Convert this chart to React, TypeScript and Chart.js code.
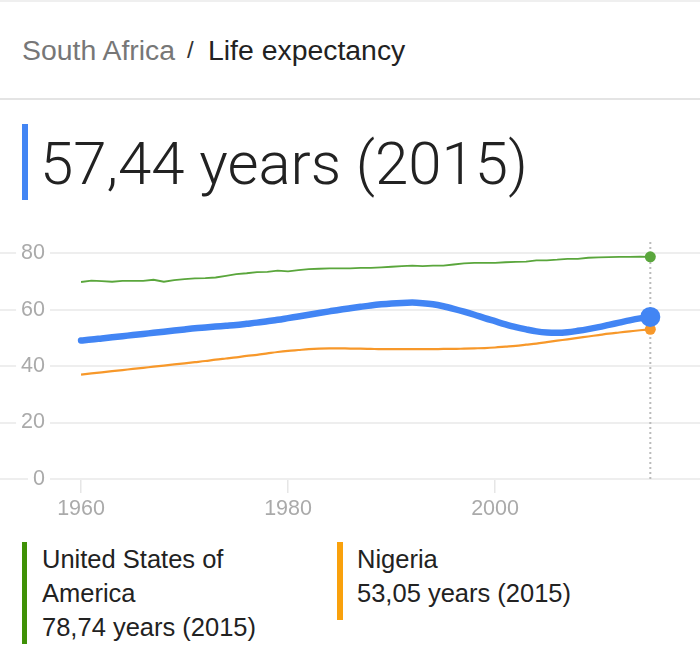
import { useEffect, useRef } from "react";
import { Chart, registerables } from "chart.js";

Chart.register(...registerables);

const years = [
  1960, 1961, 1962, 1963, 1964, 1965, 1966, 1967, 1968, 1969,
  1970, 1971, 1972, 1973, 1974, 1975, 1976, 1977, 1978, 1979,
  1980, 1981, 1982, 1983, 1984, 1985, 1986, 1987, 1988, 1989,
  1990, 1991, 1992, 1993, 1994, 1995, 1996, 1997, 1998, 1999,
  2000, 2001, 2002, 2003, 2004, 2005, 2006, 2007, 2008, 2009,
  2010, 2011, 2012, 2013, 2014, 2015,
];

const southAfrica = [
  49.1, 49.4, 49.8, 50.2, 50.6, 51.0, 51.4, 51.8, 52.2, 52.6,
  53.0, 53.4, 53.7, 54.0, 54.3, 54.6, 55.0, 55.4, 55.9, 56.4,
  57.0, 57.6, 58.2, 58.8, 59.4, 60.0, 60.5, 61.0, 61.5, 61.9,
  62.2, 62.4, 62.5, 62.3, 61.9, 61.2, 60.3, 59.3, 58.2, 57.0,
  55.9, 54.8, 53.8, 53.0, 52.3, 51.9, 51.8, 52.0, 52.5, 53.1,
  53.8, 54.6, 55.4, 56.2, 56.9, 57.44,
];

const unitedStates = [
  69.8, 70.3, 70.1, 69.9, 70.2, 70.2, 70.2, 70.6, 69.9, 70.5,
  70.8, 71.1, 71.2, 71.4, 72.0, 72.6, 72.9, 73.3, 73.4, 73.8,
  73.6, 74.0, 74.4, 74.5, 74.6, 74.6, 74.6, 74.8, 74.8, 75.0,
  75.2, 75.4, 75.6, 75.4, 75.6, 75.6, 76.0, 76.4, 76.6, 76.6,
  76.6, 76.8, 76.9, 77.0, 77.5, 77.5, 77.7, 78.0, 78.0, 78.4,
  78.5, 78.6, 78.7, 78.7, 78.8, 78.74,
];

const nigeria = [
  37.0, 37.4, 37.8, 38.2, 38.6, 39.0, 39.4, 39.8, 40.2, 40.6,
  41.0, 41.4, 41.8, 42.3, 42.7, 43.1, 43.6, 44.0, 44.5, 45.0,
  45.4, 45.7, 46.0, 46.2, 46.3, 46.3, 46.2, 46.2, 46.1, 46.0,
  46.0, 46.0, 46.0, 46.0, 46.0, 46.1, 46.1, 46.2, 46.3, 46.4,
  46.6, 46.9, 47.2, 47.6, 48.0, 48.5, 49.0, 49.5, 50.0, 50.5,
  51.0, 51.5, 51.9, 52.3, 52.7, 53.05,
];

const xTicks = [1960, 1980, 2000];
const yTicks = [0, 20, 40, 60, 80];
const markerYear = [2015, 2015];
const markerRange = [0, 84.6];

const BLUE = "#4285f4";
const GREEN = "#5aa63c";
const ORANGE = "#f7982a";
const GRID = "#eeeeee";
const TICK_TEXT = "#aaaaaa";
const FONT = "'Liberation Sans', Arial, sans-serif";

const toPoints = (xs: number[], ys: number[]) => xs.map((x, i) => ({ x, y: ys[i] }));
const lastDot = (r: number) => (c: any) => (c.dataIndex === years.length - 1 ? r : 0);

function LifeChart() {
  const chartRef = useRef<HTMLCanvasElement | null>(null);
  useEffect(() => {
    const ctx = chartRef.current?.getContext("2d");
    if (!ctx) return;

    const chart = new Chart(ctx, {
      type: "line",
      data: {
        datasets: [
          {
            label: "South Africa",
            data: toPoints(years, southAfrica),
            borderColor: BLUE,
            backgroundColor: BLUE,
            borderWidth: 6.5,
            borderCapStyle: "round",
            borderJoinStyle: "round",
            cubicInterpolationMode: "monotone",
            pointRadius: lastDot(10),
            pointBorderWidth: 0,
          },
          {
            label: "Nigeria",
            data: toPoints(years, nigeria),
            borderColor: ORANGE,
            backgroundColor: ORANGE,
            borderWidth: 2.2,
            cubicInterpolationMode: "monotone",
            pointRadius: lastDot(5.5),
            pointBorderWidth: 0,
          },
          {
            label: "United States of America",
            data: toPoints(years, unitedStates),
            borderColor: GREEN,
            backgroundColor: GREEN,
            borderWidth: 1.8,
            pointRadius: lastDot(5.5),
            pointBorderWidth: 0,
          },
          {
            label: "marker",
            data: toPoints(markerYear, markerRange),
            borderColor: "#bbbbbb",
            borderWidth: 2,
            borderDash: [2, 3],
            pointRadius: 0,
          },
        ],
      },
      options: {
        animation: false,
        responsive: false,
        // the big dot would otherwise push the plot in from the canvas edges
        layout: { autoPadding: false },
        plugins: {
          legend: { display: false },
          tooltip: { enabled: false },
        },
        scales: {
          x: {
            type: "linear",
            min: 1957,
            max: 2019.8,
            afterFit: (s: any) => {
              s.height = 51;
            },
            afterBuildTicks: (s: any) => {
              s.ticks = xTicks.map((value) => ({ value }));
            },
            border: { display: false },
            grid: { drawOnChartArea: false, tickLength: 14, tickColor: "#e6e6e6", lineWidth: 1.5 },
            ticks: {
              autoSkip: false,
              maxRotation: 0,
              padding: 3,
              color: TICK_TEXT,
              font: { family: FONT, size: 21.5 },
              callback: (v: any) => String(v),
            },
          },
          y: {
            min: 0,
            max: 90,
            afterFit: (s: any) => {
              s.width = 50;
            },
            afterBuildTicks: (s: any) => {
              s.ticks = yTicks.map((value) => ({ value }));
            },
            border: { display: false },
            grid: { color: GRID, lineWidth: 2, tickLength: 50 },
            ticks: {
              padding: -45,
              color: TICK_TEXT,
              font: { family: FONT, size: 21.5 },
              showLabelBackdrop: true,
              backdropColor: "#ffffff",
              backdropPadding: { left: 5, right: 5, top: 0, bottom: 0 },
            },
          },
        },
      },
    } as any);
    return () => chart.destroy();
  }, []);

  return (
    <canvas
      ref={chartRef}
      width={700}
      height={305}
      style={{ position: "absolute", left: 0, top: 225, display: "block" }}
    ></canvas>
  );
}

function Text(props: { x: number; y: number; size: number; color: string; weight?: number; family?: string; children: any }) {
  return (
    <div
      style={{
        position: "absolute",
        left: props.x,
        top: props.y,
        fontSize: props.size,
        lineHeight: "34px",
        color: props.color,
        fontWeight: props.weight ?? 400,
        fontFamily: props.family ?? FONT,
        whiteSpace: "pre",
      }}
    >
      {props.children}
    </div>
  );
}

function Bar(props: { x: number; y: number; w: number; h: number; color: string }) {
  return (
    <div
      style={{
        position: "absolute",
        left: props.x,
        top: props.y,
        width: props.w,
        height: props.h,
        background: props.color,
      }}
    ></div>
  );
}

export default function App() {
  return (
    <div
      style={{
        position: "fixed",
        left: 0,
        top: 0,
        width: 700,
        height: 661,
        background: "#ffffff",
        overflow: "hidden",
      }}
    >
      <Bar x={0} y={0} w={700} h={2} color="#efefef" />
      <Text x={22} y={33} size={28.4} color="#777777">South Africa</Text>
      <Text x={187} y={33} size={24} color="#333333">/</Text>
      <Text x={208} y={33} size={28.4} color="#222222">Life expectancy</Text>
      <Bar x={0} y={98} w={700} h={2} color="#e4e4e4" />

      <Bar x={22} y={124} w={6} h={76} color={BLUE} />
      <Text x={40} y={147} size={60} color="#222222" weight={300} family="Roboto, sans-serif">57,44 years (2015)</Text>

      <LifeChart />

      <Bar x={22} y={542} w={5} h={102} color="#3f9106" />
      <Text x={42} y={542} size={25.5} color="#222222">United States of</Text>
      <Text x={42} y={576} size={25.5} color="#222222">America</Text>
      <Text x={42} y={610} size={25.5} color="#222222">78,74 years (2015)</Text>

      <Bar x={337} y={542} w={6} h={78} color="#f9a10c" />
      <Text x={357} y={542} size={25.5} color="#222222">Nigeria</Text>
      <Text x={357} y={576} size={25.5} color="#222222">53,05 years (2015)</Text>
    </div>
  );
}
